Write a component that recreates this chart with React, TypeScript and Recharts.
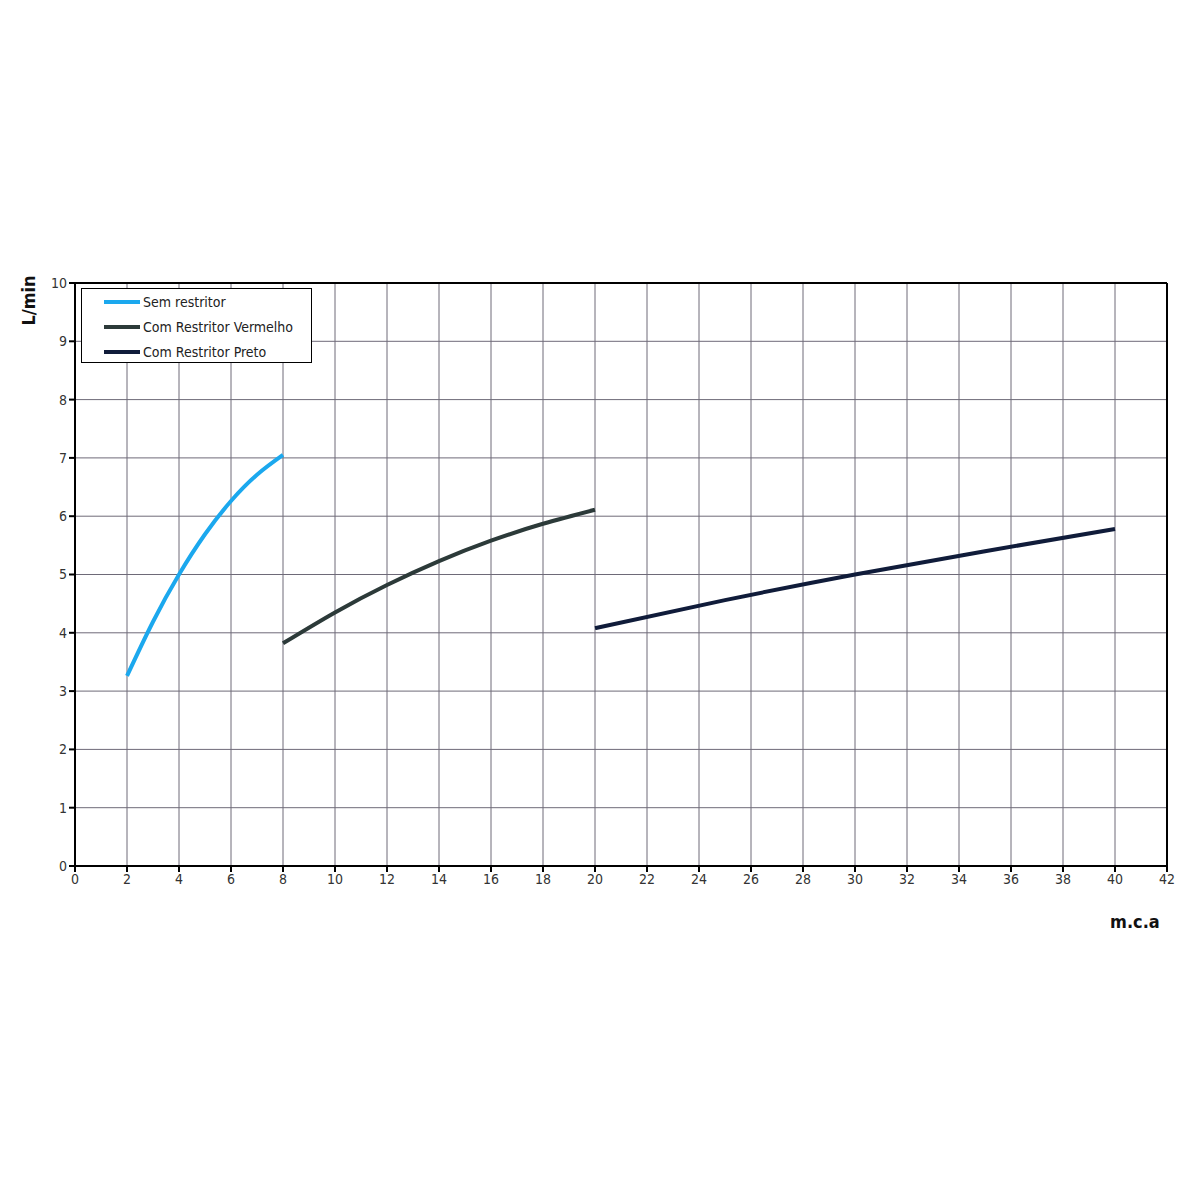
import React from "react";
import { LineChart, Line, XAxis, YAxis, CartesianGrid, ReferenceLine } from "recharts";

const xTicks = [0, 2, 4, 6, 8, 10, 12, 14, 16, 18, 20, 22, 24, 26, 28, 30, 32, 34, 36, 38, 40, 42];
const yTicks = [0, 1, 2, 3, 4, 5, 6, 7, 8, 9, 10];

const semX = [2, 3, 4, 5, 6, 7, 8];
const semY = [3.26, 4.19, 5.0, 5.69, 6.26, 6.71, 7.05];

const vermX = [8, 10, 12, 14, 16, 18, 20];
const vermY = [3.82, 4.35, 4.82, 5.23, 5.58, 5.87, 6.11];

const pretoX = [20, 25, 30, 35, 40];
const pretoY = [4.08, 4.56, 5.0, 5.4, 5.78];

const seriesNames = ["Sem restritor", "Com Restritor Vermelho", "Com Restritor Preto"];
const seriesColors = ["#1ba8ee", "#2c3a39", "#101c3a"];

const toRows = (xs: number[], ys: number[]) => xs.map((x, i) => ({ x, y: ys[i] }));
const semData = toRows(semX, semY);
const vermData = toRows(vermX, vermY);
const pretoData = toRows(pretoX, pretoY);

const FONT = "'DejaVu Sans Condensed', 'DejaVu Sans', sans-serif";

export default function App() {
  return (
    <div style={{ position: "absolute", left: 0, top: 0, width: 1200, height: 1200, background: "#fff" }}>
      <LineChart width={1200} height={1200} margin={{ top: 283, right: 33, bottom: 304, left: 35 }}>
        <CartesianGrid stroke="#6e6a78" strokeWidth={1} horizontal vertical />
        <XAxis
          type="number"
          dataKey="x"
          domain={[0, 42]}
          ticks={xTicks}
          allowDuplicatedCategory={false}
          stroke="#000"
          strokeWidth={2}
          tickSize={6}
          height={30}
          tick={{ fill: "#333", fontSize: 14, fontFamily: FONT, style: { fontStretch: "condensed" } }}
          tickLine={{ stroke: "#000" }}
        />
        <YAxis
          type="number"
          domain={[0, 10]}
          ticks={yTicks}
          stroke="#000"
          strokeWidth={2}
          tickSize={6}
          width={40}
          tick={{ fill: "#333", fontSize: 14, fontFamily: FONT, style: { fontStretch: "condensed" } }}
          tickLine={{ stroke: "#000" }}
        />
        <ReferenceLine y={10} stroke="#000" strokeWidth={2} />
        <ReferenceLine x={42} stroke="#000" strokeWidth={2} />
        <Line data={semData} dataKey="y" name={seriesNames[0]} type="natural" stroke={seriesColors[0]} strokeWidth={4} dot={false} isAnimationActive={false} />
        <Line data={vermData} dataKey="y" name={seriesNames[1]} type="natural" stroke={seriesColors[1]} strokeWidth={4} dot={false} isAnimationActive={false} />
        <Line data={pretoData} dataKey="y" name={seriesNames[2]} type="natural" stroke={seriesColors[2]} strokeWidth={4} dot={false} isAnimationActive={false} />
      </LineChart>
      <div
        style={{
          position: "absolute",
          left: 81,
          top: 288,
          width: 231,
          height: 75,
          border: "1px solid #000",
          background: "#fff",
          fontFamily: FONT,
          fontStretch: "condensed",
          fontSize: 14,
          color: "#222",
          boxSizing: "border-box",
          paddingTop: 0,
        }}
      >
        {seriesNames.map((n, i) => (
          <div key={n} style={{ display: "flex", alignItems: "center", height: 25 }}>
            <div style={{ width: 36, height: 4, background: seriesColors[i], marginLeft: 22, marginRight: 3 }} />
            <span style={{ whiteSpace: "nowrap" }}>{n}</span>
          </div>
        ))}
      </div>
      <div
        style={{
          position: "absolute",
          left: 8,
          top: 278,
          width: 40,
          height: 44,
          display: "flex",
          alignItems: "center",
          justifyContent: "center",
        }}
      >
        <div style={{ transform: "rotate(-90deg)", fontFamily: FONT, fontWeight: "bold", fontSize: 18, color: "#111", whiteSpace: "nowrap" }}>
          L/min
        </div>
      </div>
      <div
        style={{
          position: "absolute",
          left: 1110,
          top: 911,
          fontFamily: FONT,
          fontWeight: "bold",
          fontSize: 18,
          color: "#111",
        }}
      >
        m.c.a
      </div>
    </div>
  );
}
